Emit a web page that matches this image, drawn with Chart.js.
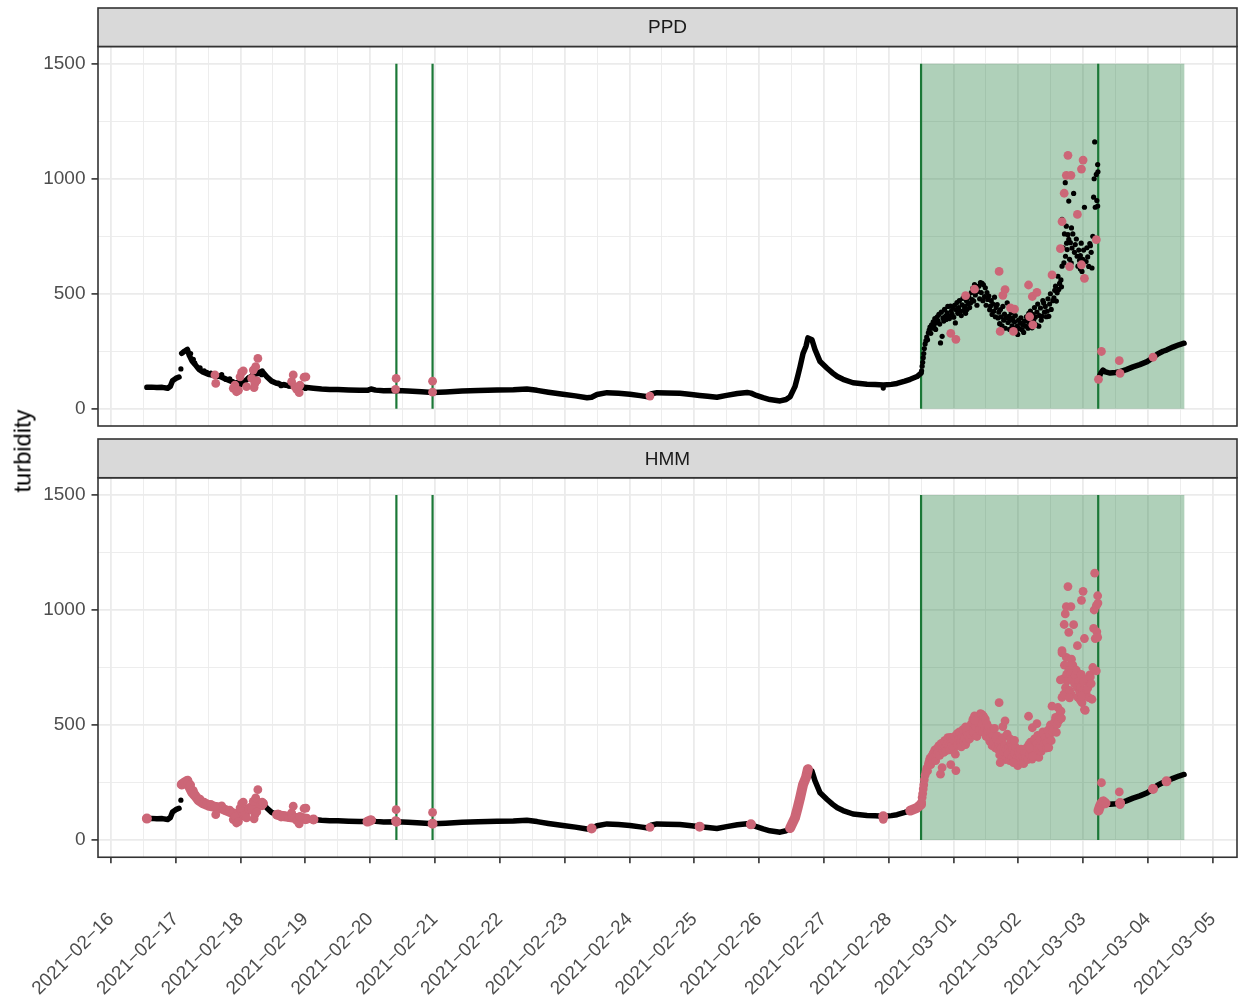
<!DOCTYPE html>
<html><head><meta charset="utf-8">
<script src="https://cdn.jsdelivr.net/npm/chart.js@4.4.1/dist/chart.umd.min.js"></script>
<style>
html,body{margin:0;padding:0;background:#fff;}
#wrap{position:relative;width:1242px;height:1005px;overflow:hidden;background:#fff;}
.box{position:absolute;left:0;width:1242px;}
#ytitle{position:absolute;left:23px;top:451px;transform:translate(-50%,-50%) rotate(-90deg);font:23.7px "Liberation Sans",Arial,sans-serif;color:#000;white-space:nowrap;}
</style></head><body>
<div id="wrap">
 <div class="box" style="top:0;height:432px"><canvas id="c1"></canvas></div>
 <div class="box" style="top:431px;height:574px"><canvas id="c2"></canvas></div>
 <div id="ytitle">turbidity</div>
</div>
<script>
// ---------- data (hours since 2021-02-16 00:00) ----------
const dayLabels = ['2021−02−16','2021−02−17','2021−02−18','2021−02−19','2021−02−20','2021−02−21',
  '2021−02−22','2021−02−23','2021−02−24','2021−02−25','2021−02−26','2021−02−27','2021−02−28',
  '2021−03−01','2021−03−02','2021−03−03','2021−03−04','2021−03−05'];
const yTickValues = [0, 250, 500, 750, 1000, 1250, 1500];
const panelNames = ['PPD', 'HMM'];

// smooth baseline observations (null = gap)
const baseHours = [13.3,15,17,19,21,22,22.8,24,25.2,25.6,26.2,27.2,28.3,29,30,31.2,32.5,34,36,38,40,42,44,46,47.8,49,50.4,52,54,56.3,
  57.8,59.5,61.5,63.5,65.5,68,70,72.5,75,78,81,84,88,92,95,96.3,98,101,105.7,110,115,119.1,124,130,136,143,149,154,157.8,162,
  167.4,172,176.3,178,180,183.7,188,192.2,196,198.9,200,202.2,206,210.7,215,218,221,224.4,228,232,235.6,237,239,241.5,244,247.8,
  250,251.5,253.3,254.3,255.2,256.3,257.4,258.1,259.6,260.7,262.6,265.2,267.4,269,271.1,274.8,280,283,286,289,291.1,294,296,298.5,300,
  300.1,365.7,366.2,366.7,367.4,368.3,370,372,373.7,376,378.5,381,383.7,385.9,387.6,389.6,390.9,393.3,395.5,397.4];
const baseTurb = [93,94,92,93,89,98,122,132,138,null,241,250,258,232,208,192,172,160,150,145,142,132,122,112,104,115,128,142,152,158,
  138,120,110,104,101,97,95,92,89,86,84,84,82,80,80,86,81,78,79,77,74,71,73,77,79,81,83,86,80,72,
  63,56,48,50,62,70,67,63,57,52,64,70,69,67,62,58,54,50,58,66,71,68,58,48,40,34,
  40,52,96,140,183,241,272,308,300,258,205,176,154,140,128,113,107,105,103,106,110,120,128,140,155,
  null,128,145,158,168,160,155,158,161,170,182,192,205,222,238,250,255,268,278,285];

// scattered observations (early unsettled period, noisy period and isolated values)
const scatHours = [25.9,286.0,
  29.5,30.5,31.0,33.0,34.5,35.5,37.0,39.5,41.0,42.5,44.0,45.0,46.7,48.0,49.5,51.0,52.5,55.0,55.8,56.0,
  62.0,63.0,64.0,66.0,67.0,69.0,71.0,72.0,
  300.2,300.4,300.6,300.8,301.0,301.2,301.5,301.8,302.1,302.4,302.7,303.0,303.3,303.6,303.9,304.2,304.5,304.8,305.1,305.4,305.7,306.0,
  306.3,306.6,306.9,307.2,307.5,307.8,308.1,308.4,308.7,309.0,309.3,309.6,309.9,310.2,310.5,310.9,311.2,311.5,311.8,
  312.1,312.4,312.7,313.0,313.3,313.6,313.9,314.2,314.6,314.9,315.2,315.5,315.8,316.1,316.5,316.8,317.0,317.4,317.7,318.0,
  318.3,318.6,318.9,319.2,319.5,319.8,320.1,320.4,320.7,321.0,321.4,321.7,322.0,
  322.3,322.6,322.9,323.1,323.5,323.8,324.1,324.4,324.7,325.1,325.4,325.7,326.0,326.3,326.6,326.9,327.2,327.5,327.8,328.2,
  328.5,328.8,329.1,329.4,329.7,330.0,330.3,330.6,330.9,331.2,331.5,331.9,332.2,332.5,332.8,333.1,333.4,333.7,334.0,
  334.3,334.6,334.9,335.2,335.6,335.8,336.1,336.4,336.7,337.0,337.4,337.7,338.0,338.3,338.7,339.0,339.3,339.6,339.9,
  340.2,340.5,340.8,341.1,341.4,341.7,342.0,342.3,342.6,342.9,343.2,343.6,343.9,344.2,344.5,344.8,345.1,345.4,345.7,346.0,
  346.4,346.7,347.0,347.3,347.6,347.9,348.2,348.8,349.2,349.5,349.8,350.1,350.4,350.7,351.0,351.3,351.8,352.0,
  352.2,352.2,352.6,352.9,353.1,353.4,353.5,353.8,353.9,354.1,354.4,354.7,354.7,355.0,355.3,355.6,355.7,355.9,356.2,356.5,
  356.8,357.1,357.5,357.8,358.1,358.4,358.7,359.0,359.0,359.3,359.6,359.9,360.2,360.5,360.8,361.1,361.4,361.7,362.1,362.5,
  362.7,363.0,363.3,363.6,363.9,364.1,364.3,364.5,364.9,365.1,365.4,365.4,365.5];
const scatTurb = [173,90,
  240,215,200,178,165,158,155,140,148,128,130,118,115,125,120,135,148,160,148,165,
  112,100,106,98,104,92,97,88,
  165,185,202,222,240,262,282,296,312,300,330,342,355,328,365,350,378,362,392,345,375,400,
  382,410,368,286,420,315,395,381,432,402,388,417,445,405,392,446,425,410,438,
  398,450,373,430,462,415,440,470,424,405,452,480,428,445,415,470,431,455,485,440,
  460,505,475,525,468,540,495,520,450,510,533,478,549,
  505,545,470,539,488,526,450,505,475,490,430,446,470,410,455,424,485,400,440,453,
  395,420,370,431,400,360,445,385,412,350,395,460,375,402,345,385,418,360,395,
  350,378,405,335,359,323,385,348,372,395,344,365,332,380,359,400,381,350,415,
  372,425,390,352,410,381,440,398,365,420,455,359,405,438,385,402,470,460,420,445,
  400,424,478,402,455,500,432,470,482,515,533,468,504,576,519,545,560,530,
  620,823,700,634,760,983,663,794,720,692,757,903,736,650,722,634,786,699,760,936,
  680,714,738,663,620,690,645,666,608,720,597,650,690,876,564,640,700,660,619,718,
  709,680,612,750,920,1000,1160,876,1019,905,1062,881,1030];

// observations flagged by PPD
const ppdHours = [38.5,38.8,45.3,45.9,46.5,47.2,47.8,48.4,49.0,50.2,52.1,52.7,53.3,53.6,54.4,53.0,54.0,66.9,67.5,68.1,68.8,69.7,70.0,71.5,72.2,
  105.4,105.6,119.1,119.1,199.6,
  311.0,312.9,316.5,319.8,328.9,329.3,330.3,331.1,333.1,334.2,334.6,339.8,340.2,341.2,341.4,342.9,348.5,351.6,352.2,353.0,
  353.8,354.4,355.0,355.5,357.9,359.4,359.4,360.0,360.5,364.9,
  365.7,366.8,373.4,373.7,385.9];
const ppdTurb = [147,110,89,103,74,80,139,158,165,96,132,168,110,183,219,92,122,118,147,96,84,70,103,137,139,
  84,132,72,120,55,
  328,302,492,520,597,336,493,518,439,336,433,538,400,488,365,506,582,696,814,937,
  1015,1102,618,1015,845,1042,626,1081,567,735,
  128,249,209,154,224];

// time windows flagged by HMM [start, end] (hours)
const hmmRanges = [[13.0,14.0],[26.0,56.3],[61.5,73.0],[74.5,76.5],[93.5,97.0],[105.0,106.0],[118.8,119.4],
  [177.5,178.5],[199.3,199.9],[217.5,218.5],[236.5,237.3],[251.2,258.2],[285.8,286.2],[296.0,368.5],
  [373.2,373.9],[385.7,386.1],[390.7,391.1]];

// event markers and shaded period (hours)
const eventHours = [105.7, 119.1, 300.0, 365.6];
const shadeStart = 300.0, shadeEnd = 397.5, eventTop = 1500;

// ---------- build ----------
const RED = '#CC6677', GREEN = '#1B7837';
const pts = (hs, vs) => hs.map((h, i) => ({x: h, y: vs[i]}));
const basePts = pts(baseHours, baseTurb);
const obsPts = pts(scatHours, scatTurb).concat(pts(ppdHours, ppdTurb));
const ppdPts = pts(ppdHours, ppdTurb);
const inRanges = h => hmmRanges.some(([a, b]) => h >= a && h <= b);
const hmmLine = [];
hmmRanges.forEach(([a, b]) => {
  basePts.forEach(p => { if (p.x >= a && p.x <= b) hmmLine.push(p); });
  hmmLine.push({x: b, y: null});
});
const hmmPts = obsPts.filter(p => inRanges(p.x));

const xTicks = [];
dayLabels.forEach((d, i) => { xTicks.push(24 * i); if (24 * i + 12 < 417) xTicks.push(24 * i + 12); });

Chart.defaults.font.family = '"Liberation Sans", Arial, Helvetica, sans-serif';

const zeroPad = ax => { ax.paddingLeft = 0; ax.paddingRight = 0; ax.paddingTop = 0; ax.paddingBottom = 0; };

const panelPlugin = {
  id: 'panelDeco',
  beforeDatasetsDraw(chart) {
    const {ctx, chartArea: a, scales: {x, y}} = chart;
    ctx.save();
    ctx.beginPath(); ctx.rect(a.left, a.top, a.right - a.left, a.bottom - a.top); ctx.clip();
    const x0 = x.getPixelForValue(shadeStart), x1 = x.getPixelForValue(shadeEnd);
    const yT = y.getPixelForValue(eventTop), yB = y.getPixelForValue(0);
    ctx.fillStyle = 'rgba(27,120,55,0.35)';
    ctx.fillRect(x0, yT, x1 - x0, yB - yT);
    ctx.strokeStyle = GREEN; ctx.lineWidth = 2.2;
    eventHours.forEach(h => {
      const px = x.getPixelForValue(h);
      ctx.beginPath(); ctx.moveTo(px, yT); ctx.lineTo(px, yB); ctx.stroke();
    });
    ctx.restore();
  },
  afterDraw(chart) {
    const {ctx, chartArea: a} = chart;
    const name = chart.options.plugins.panelDeco.name;
    ctx.save();
    ctx.strokeStyle = '#333333'; ctx.lineWidth = 1.6;
    ctx.strokeRect(a.left, a.top, a.right - a.left, a.bottom - a.top);
    ctx.fillStyle = '#D9D9D9';
    ctx.fillRect(a.left, 8, a.right - a.left, a.top - 8);
    ctx.strokeRect(a.left, 8, a.right - a.left, a.top - 8);
    ctx.fillStyle = '#1A1A1A';
    ctx.font = '19px "Liberation Sans", Arial, sans-serif';
    ctx.textAlign = 'center'; ctx.textBaseline = 'middle';
    ctx.fillText(name, (a.left + a.right) / 2, (8 + a.top) / 2 + 1);
    ctx.restore();
  }
};

function makeChart(id, name, showX, topPad, redLine, redPts) {
  const ds = [
    {data: redPts, pointRadius: 4.4, pointHoverRadius: 4.4, backgroundColor: RED, borderWidth: 0, showLine: false, order: 0},
  ];
  if (redLine) ds.push({data: redLine, showLine: true, borderColor: RED, borderWidth: 10, pointRadius: 4.4,
    pointBackgroundColor: RED, pointBorderWidth: 0, borderCapStyle: 'round', borderJoinStyle: 'round', spanGaps: false, order: 1});
  ds.push({data: obsPts, pointRadius: 2.6, backgroundColor: '#000', borderWidth: 0, showLine: false, order: 2});
  ds.push({data: basePts, showLine: true, borderColor: '#000', borderWidth: 5.5, pointRadius: 0,
    borderCapStyle: 'round', borderJoinStyle: 'round', spanGaps: false, order: 3});

  return new Chart(document.getElementById(id), {
    type: 'scatter',
    data: {datasets: ds},
    options: {
      responsive: true, maintainAspectRatio: false, animation: false,
      layout: {padding: {left: 0, right: 5, top: topPad, bottom: 0}},
      plugins: {legend: {display: false}, tooltip: {enabled: false}, panelDeco: {name}},
      events: [],
      scales: {
        x: {
          type: 'linear', min: -4.8, max: 417.0,
          afterBuildTicks: ax => { ax.ticks = xTicks.map(v => ({value: v})); },
          afterFit: ax => { ax.height = showX ? 147.75 : 6; zeroPad(ax); },
          border: {display: false},
          grid: {
            color: '#EBEBEB',
            lineWidth: c => (c.tick && c.tick.value % 24 === 0) ? 1.8 : 0.9,
            drawTicks: showX, tickLength: 6,
            tickWidth: 1.6,
            tickColor: c => (c.tick && c.tick.value % 24 === 0) ? '#333333' : 'rgba(0,0,0,0)'
          },
          ticks: {
            display: showX, autoSkip: false, minRotation: 45, maxRotation: 45,
            padding: 45, labelOffset: 0, color: '#4D4D4D', font: {size: 19},
            callback: v => (v % 24 === 0) ? dayLabels[v / 24] : ''
          }
        },
        y: {
          type: 'linear', min: -75, max: 1575,
          afterBuildTicks: ax => { ax.ticks = yTickValues.map(v => ({value: v})); },
          afterFit: ax => { ax.width = 98; zeroPad(ax); },
          border: {display: false},
          grid: {
            color: '#EBEBEB',
            lineWidth: c => (c.tick && c.tick.value % 500 === 0) ? 1.8 : 0.9,
            drawTicks: true, tickLength: 6.5, tickWidth: 1.6,
            tickColor: c => (c.tick && c.tick.value % 500 === 0) ? '#333333' : 'rgba(0,0,0,0)'
          },
          ticks: {
            padding: 6, color: '#4D4D4D', font: {size: 19},
            callback: v => (v % 500 === 0) ? String(v) : ''
          }
        }
      }
    },
    plugins: [panelPlugin]
  });
}

makeChart('c1', panelNames[0], false, 46.5, null, ppdPts);
makeChart('c2', panelNames[1], true, 46.75, hmmLine, hmmPts);
</script>
</body></html>
